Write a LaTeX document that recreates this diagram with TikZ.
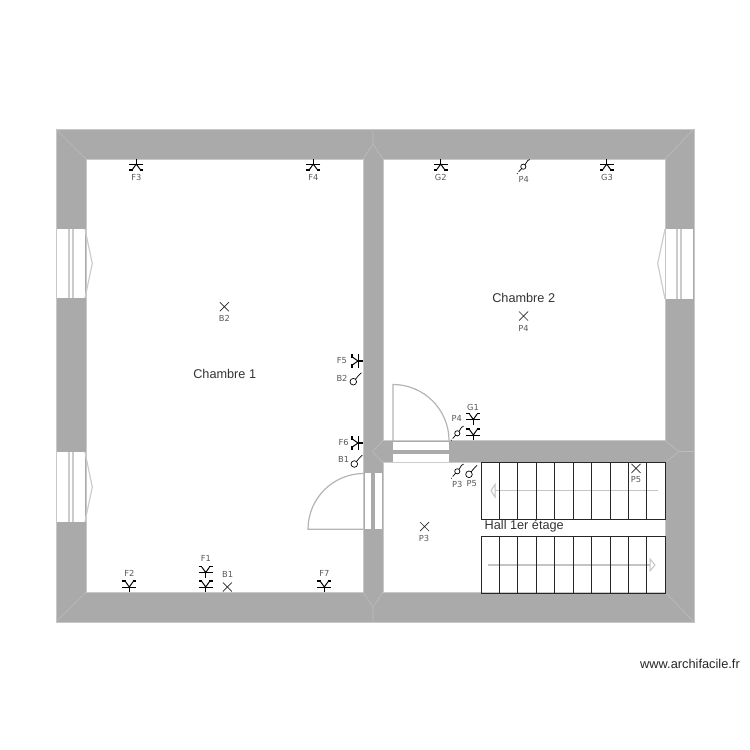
\documentclass[tikz,border=0pt]{standalone}
\usepackage{fontspec}
\setmainfont{Liberation Sans}
\newfontfamily\smallfont{DejaVu Sans}
\definecolor{wallgray}{HTML}{AAAAAA}
\definecolor{edgegray}{HTML}{C8C8C8}
\definecolor{mitregray}{HTML}{BCBCBC}
\definecolor{framegray}{HTML}{CCCCCC}
\definecolor{leafgray}{HTML}{B4B4B4}
\definecolor{runarrow}{HTML}{C4C4C4}
\tikzset{
  wall/.style={fill=wallgray,draw=edgegray,line width=0.8pt,even odd rule},
  mitre/.style={draw=mitregray,line width=0.6pt},
  opening/.style={fill=white,draw=none},
  frameline/.style={draw=framegray,line width=1.2pt},
  leaf/.style={draw=leafgray,line width=1.2pt},
  stairbox/.style={draw=black!85,line width=1pt},
  runline/.style={draw=runarrow,line width=1.5pt},
  runhead/.style={draw=runarrow,fill=white,line width=1pt},
  roomlabel/.style={font=\fontsize{12.7}{14}\selectfont,text=black!80,inner sep=0pt},
  tag/.style={font=\smallfont\fontsize{8.3}{9}\selectfont,text=black!65,inner sep=0pt},
  cross/.style={draw=black!85,line width=0.7pt},
  lamp/.pic={
    \draw[black,line width=1.3pt] (0,0) -- (0,-5.5);
    \draw[black,line width=1pt] (-7,-5) -- (7,-5);
    \draw[black,line width=1pt] (0,-5) -- (-3.8,-10.4) (0,-5) -- (3.8,-10.4);
    \draw[black,line width=1.1pt] (-7,-11) -- (-3.4,-11) (3.4,-11) -- (7,-11);
  },
  simpleswitch/.pic={
    \draw[black,line width=0.7pt] (0,0) circle[radius=3.3];
    \draw[black,line width=0.7pt] (2.2,-2.5) -- (5.5,-6.5) -- (8,-9);
  },
  dualswitch/.pic={
    \draw[black,line width=0.7pt] (0,0) circle[radius=2.6];
    \draw[black,line width=0.7pt] (1.7,-2) -- (4.3,-6) -- (6.3,-7.2);
    \draw[black,line width=0.7pt] (-1.7,2) -- (-4.7,5.2) (-5.7,6.6) -- (-6.2,7.2);
  },
  crossmark/.pic={
    \draw[cross] (-4.5,-4.5) -- (4.5,4.5) (-4.5,4.5) -- (4.5,-4.5);
  }
}
\begin{document}
\begin{tikzpicture}[x=1pt,y=-1pt]
\useasboundingbox (0,0) rectangle (750,750);
% walls
\path[wall] (56,129) rectangle (694,622)
  (86,159) rectangle (363.5,592)
  (383,159) rectangle (665,440.5)
  (383,462.5) rectangle (665,592);
% mitres
\draw[mitre] (56,129) -- (86,159) (56,622) -- (86,592)
  (694,129) -- (665,159) (694,622) -- (665,592)
  (373,129) -- (373,144) (363,159) -- (373,144) -- (383,159)
  (373,622) -- (373,607) (363,592) -- (373,607) -- (383,592)
  (694,451.5) -- (679,451.5) (665,440.5) -- (679,451.5) -- (665,462.5)
  (383,440.5) -- (372.5,451.5) -- (383,462.5);
% left windows
\foreach \wy/\wb/\wp in {229/298/263.5, 452/521.5/487}{
  \fill[white] (57,\wy) rectangle (84.5,\wb);
  \draw[frameline] (69,\wy) -- (69,\wb) (73,\wy) -- (73,\wb);
  \draw[frameline] (85,\wy) -- (92.3,\wp) -- (85,\wb);
}
% right window
\fill[white] (665.7,229) rectangle (693,299);
\draw[frameline] (677,229) -- (677,299) (681,229) -- (681,299);
\draw[frameline] (665,229) -- (657.7,263.5) -- (665,299);
% top door
\fill[opening] (393,442) rectangle (449,449.5);
\fill[opening] (393,454) rectangle (449,461.7);
\draw[frameline] (383,440.8) -- (449,440.8) (383,462.5) -- (449,462.5);
\draw[leaf] (393,441) -- (393,384.5) arc[start angle=270,end angle=360,radius=56];
% left door
\fill[opening] (364.7,473.3) rectangle (371.3,529.3);
\fill[opening] (375.3,473.3) rectangle (382,529.3);
\draw[leaf] (363.5,529.3) -- (308,529.3) arc[start angle=180,end angle=270,radius=55.8];
% stair run arrows
\draw[runline] (657.7,490.7) -- (495,490.7);
\draw[runhead] (495,484.5) -- (491,490.7) -- (495,497) -- cycle;
\draw[runline] (487.7,565) -- (650,565);
\draw[runhead] (650,559) -- (655,565) -- (650,571) -- cycle;
% stairs
\foreach \sy/\sb in {462.3/519, 536.3/593}{
  \draw[stairbox] (481,\sy) rectangle (665.3,\sb);
  \foreach \k in {1,...,9}{
    \draw[stairbox] ({481+18.43*\k},\sy) -- ({481+18.43*\k},\sb);
  }
}
% lamps on the top wall
\pic[rotate=180] at (136.3,159) {lamp};
\pic[rotate=180] at (313.3,159) {lamp};
\pic[rotate=180] at (440.7,159) {lamp};
\pic[rotate=180] at (606.7,159) {lamp};
% lamps on the bottom wall and above
\pic at (129.3,592) {lamp};
\pic at (205.7,592) {lamp};
\pic at (205.7,577.5) {lamp};
\pic at (324.3,592) {lamp};
\pic at (473.3,440) {lamp};
\pic at (473.3,424.5) {lamp};
% lamps on the partition
\pic[rotate=90] at (363,361) {lamp};
\pic[rotate=90] at (363,443) {lamp};
% switches
\pic at (353.3,381.7) {simpleswitch};
\pic at (354.3,464) {simpleswitch};
\pic at (469,474.3) {simpleswitch};
\pic at (457.3,471.3) {dualswitch};
\pic at (457.3,433.3) {dualswitch};
\pic at (523.3,166.7) {dualswitch};
% crosses
\pic at (224.4,306.7) {crossmark};
\pic at (523.5,316) {crossmark};
\pic at (424.5,526.5) {crossmark};
\pic at (227.3,587) {crossmark};
\pic at (636,468.3) {crossmark};
% room labels
\node[roomlabel] (chambreone) at (224.7,374) {Chambre 1};
\node[roomlabel] (chambretwo) at (523.7,298) {Chambre 2};
\node[roomlabel,anchor=west] (hall) at (484.5,526) {Hall 1er étage};
\node[roomlabel,anchor=east,text=black!85,font=\fontsize{12.8}{14}\selectfont] (site) at (740,663.5) {www.archifacile.fr};
% tags
\node[tag] (tf3) at (136.5,177.7) {F3};
\node[tag] (tf4) at (313.5,177.7) {F4};
\node[tag] (tg2) at (440.7,177.7) {G2};
\node[tag] (tp4a) at (523.7,179.7) {P4};
\node[tag] (tg3) at (607,177.7) {G3};
\node[tag] (tb2a) at (224.3,318) {B2};
\node[tag] (tp4b) at (523.5,328) {P4};
\node[tag] (tf5) at (342,361) {F5};
\node[tag] (tb2b) at (342,378) {B2};
\node[tag] (tf6) at (343.7,442.7) {F6};
\node[tag] (tb1a) at (343.7,459) {B1};
\node[tag] (tg1) at (473,407) {G1};
\node[tag] (tp4c) at (456.7,418.7) {P4};
\node[tag] (tp3a) at (457.3,484.3) {P3};
\node[tag] (tp5a) at (471.7,483.7) {P5};
\node[tag] (tp3b) at (424,538.7) {P3};
\node[tag] (tp5b) at (636,480) {P5};
\node[tag] (tf2) at (129.3,573) {F2};
\node[tag] (tf1) at (206,558.7) {F1};
\node[tag] (tb1b) at (227.7,574) {B1};
\node[tag] (tf7) at (324.3,573) {F7};
\end{tikzpicture}
\end{document}
